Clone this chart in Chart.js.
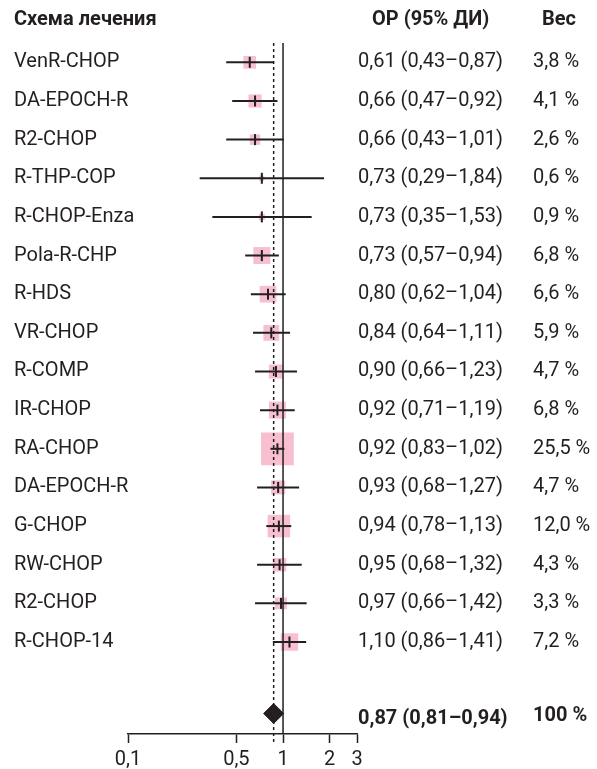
<!DOCTYPE html>
<html>
<head>
<meta charset="utf-8">
<script src="https://cdn.jsdelivr.net/npm/chart.js@4/dist/chart.umd.min.js"></script>
<style>
  html, body { margin: 0; padding: 0; background: #fff; }
  #wrap { width: 597px; height: 769px; }
</style>
</head>
<body>
<div id="wrap"><canvas id="forest" width="597" height="769"></canvas></div>
<script>
// rows, top to bottom
const regimens = ['VenR-CHOP', 'DA-EPOCH-R', 'R2-CHOP', 'R-THP-COP', 'R-CHOP-Enza', 'Pola-R-CHP', 'R-HDS', 'VR-CHOP',
  'R-COMP', 'IR-CHOP', 'RA-CHOP', 'DA-EPOCH-R', 'G-CHOP', 'RW-CHOP', 'R2-CHOP', 'R-CHOP-14'];
const hr = [0.61, 0.66, 0.66, 0.73, 0.73, 0.73, 0.80, 0.84, 0.90, 0.92, 0.92, 0.93, 0.94, 0.95, 0.97, 1.10];
const lower = [0.43, 0.47, 0.43, 0.29, 0.35, 0.57, 0.62, 0.64, 0.66, 0.71, 0.83, 0.68, 0.78, 0.68, 0.66, 0.86];
const upper = [0.87, 0.92, 1.01, 1.84, 1.53, 0.94, 1.04, 1.11, 1.23, 1.19, 1.02, 1.27, 1.13, 1.32, 1.42, 1.41];
const weights = [3.8, 4.1, 2.6, 0.6, 0.9, 6.8, 6.6, 5.9, 4.7, 6.8, 25.5, 4.7, 12.0, 4.3, 3.3, 7.2];
const pooledHr = 0.87;
const pooledLower = 0.81;
const pooledUpper = 0.94;
const pooledWeight = 100;
const xTicks = [0.1, 0.5, 1, 2, 3];

const ink = '#231f20';
const pink = '#f7bfd0';
const font = 'Roboto';
const summaryRow = 16.85;

const fmt = (v, d) => v.toFixed(d).replace('.', ',');
const ciText = (m, lo, hi) => `${fmt(m, 2)} (${fmt(lo, 2)}–${fmt(hi, 2)})`;

const ciSets = regimens.map((r, i) => ({
  type: 'line',
  data: [{x: lower[i], y: i}, {x: upper[i], y: i}],
  borderColor: ink,
  borderWidth: 2,
  pointRadius: 0,
  order: 3
}));

const textPlugin = {
  id: 'forest_text',
  afterDraw: (chart) => {
    const {ctx} = chart;
    const y = chart.scales.y;
    ctx.save();
    ctx.fillStyle = ink;
    ctx.textBaseline = 'middle';
    ctx.textAlign = 'left';
    ctx.font = `bold 20px ${font}`;
    const hy = y.getPixelForValue(-1.09);
    ctx.fillText('Схема лечения', 14, hy);
    ctx.fillText('ОР (95% ДИ)', 372, hy);
    ctx.fillText('Вес', 542, hy);
    ctx.font = `20px ${font}`;
    regimens.forEach((r, i) => {
      const py = y.getPixelForValue(i);
      ctx.fillText(r, 14, py);
      ctx.fillText(ciText(hr[i], lower[i], upper[i]), 358, py);
      ctx.fillText(`${fmt(weights[i], 1)} %`, 533, py);
    });
    ctx.font = `bold 20px ${font}`;
    const sy = y.getPixelForValue(summaryRow);
    ctx.fillText(ciText(pooledHr, pooledLower, pooledUpper), 358, sy + 5);
    ctx.fillText(`${pooledWeight} %`, 533, sy + 2);
    ctx.restore();
  }
};

const config = {
  type: 'scatter',
  data: {
    datasets: [
      {
        data: hr.map((v, i) => ({x: v, y: i})),
        pointStyle: 'rect',
        pointRadius: weights.map(w => 6.5 * Math.sqrt(w) / Math.SQRT2),
        backgroundColor: pink,
        borderWidth: 0,
        order: 5
      },
      ...ciSets,
      {
        type: 'line',
        data: [{x: 1, y: -0.5}, {x: 1, y: 17.38}],
        borderColor: ink,
        borderWidth: 1.5,
        pointRadius: 0,
        order: 4
      },
      {
        type: 'line',
        data: [{x: pooledHr, y: -0.5}, {x: pooledHr, y: 17.62}],
        borderColor: ink,
        borderWidth: 1.5,
        borderDash: [3, 3],
        pointRadius: 0,
        clip: false,
        order: 4
      },
      {
        data: hr.map((v, i) => ({x: v, y: i})),
        pointStyle: 'line',
        rotation: 90,
        pointRadius: 5.5,
        borderColor: ink,
        borderWidth: 2,
        order: 2
      },
      {
        data: [{x: pooledHr, y: summaryRow}],
        pointStyle: 'rectRot',
        pointRadius: 10,
        backgroundColor: ink,
        borderColor: ink,
        borderWidth: 1,
        order: 1
      }
    ]
  },
  options: {
    responsive: false,
    animation: false,
    layout: {padding: {left: 128, right: 240, top: 43, bottom: 0}},
    plugins: {legend: {display: false}, tooltip: {enabled: false}},
    scales: {
      x: {
        type: 'logarithmic',
        min: 0.1,
        max: 3,
        afterBuildTicks: (scale) => { scale.ticks = xTicks.map(v => ({value: v})); },
        afterFit: (scale) => { scale.height = 35; },
        grid: {drawOnChartArea: false, drawTicks: true, tickLength: 9, tickColor: ink, tickWidth: 1.5},
        border: {display: true, color: ink, width: 1.5},
        ticks: {
          color: ink,
          font: {family: font, size: 20},
          padding: 5,
          maxRotation: 0,
          autoSkip: false,
          callback: (v) => String(v).replace('.', ',')
        }
      },
      y: {
        type: 'linear',
        display: false,
        reverse: true,
        min: -0.5,
        max: 17.38
      }
    }
  },
  plugins: [textPlugin]
};

new Chart(document.getElementById('forest'), config);
</script>
</body>
</html>
